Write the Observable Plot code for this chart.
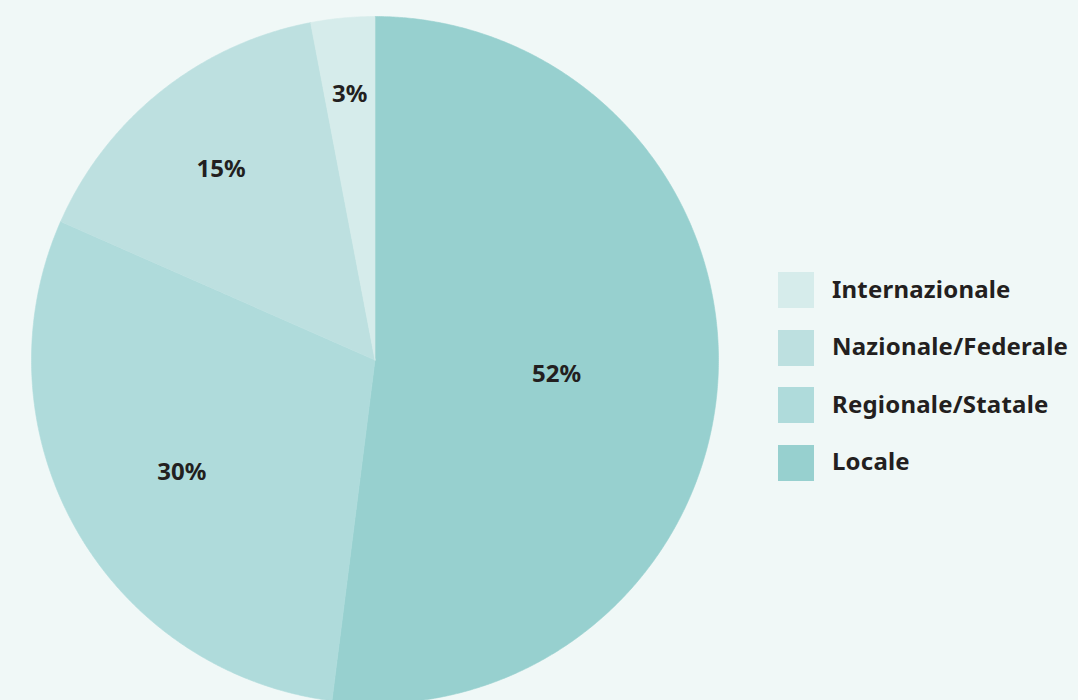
<!DOCTYPE html>
<html><head><meta charset="utf-8">
<script src="https://cdn.jsdelivr.net/npm/d3@7"></script>
<script src="https://cdn.jsdelivr.net/npm/@observablehq/plot@0.6"></script>
<style>
html,body{margin:0;padding:0;background:#f0f8f7;}
#wrap{position:relative;width:1078px;height:700px;overflow:hidden;font-family:"Noto Sans",sans-serif;}
#legend{position:absolute;left:778px;top:272px;}
.item{display:flex;align-items:center;height:36px;margin-bottom:21.5px;}
.sw{width:36px;height:36px;margin-right:18px;}
.lab{font-weight:700;font-size:24px;color:#231f20;letter-spacing:0.2px;position:relative;top:-2px;}
</style></head>
<body><div id="wrap"><div id="chart"></div><div id="legend"></div></div>
<script>
const categories = ["Locale", "Regionale/Statale", "Nazionale/Federale", "Internazionale"];
const values = [52, 29.6, 15.4, 3];
const colors = ["#97d0cf", "#afdbdb", "#bde0e0", "#d6eceb"];
const legendOrder = ["Internazionale", "Nazionale/Federale", "Regionale/Statale", "Locale"];

const W = 1078, H = 700;
const cx = 374.5, cy = 359.5, R = 343.5;

const arcs = d3.pie().sort(null).value(d => d.v)(categories.map((c, i) => ({c, v: values[i]})));
const pts = [];
const labels = [];
for (const a of arcs) {
  const c = a.data.c;
  pts.push({c, x: cx, y: cy});
  const n = Math.max(4, Math.ceil((a.endAngle - a.startAngle) * 180));
  for (let k = 0; k <= n; k++) {
    const t = a.startAngle + (a.endAngle - a.startAngle) * k / n;
    pts.push({c, x: cx + R * Math.sin(t), y: cy - R * Math.cos(t)});
  }
  pts.push({c, x: cx, y: cy});
  const mid = (a.startAngle + a.endAngle) / 2;
  const lr = R * (0.8 - 0.0052 * a.data.v);
  labels.push({c, text: Math.round(a.data.v) + "%", x: cx + lr * Math.sin(mid), y: cy - lr * Math.cos(mid) + 3});
}

const chart = Plot.plot({
  width: W, height: H,
  margin: 0,
  style: {background: "transparent"},
  x: {domain: [0, W], range: [0, W], axis: null},
  y: {domain: [0, H], range: [0, H], axis: null},
  color: {domain: categories, range: colors},
  marks: [
    Plot.line(pts, {x: "x", y: "y", z: "c", fill: "c", stroke: "c", strokeWidth: 0.6, curve: "linear"}),
    Plot.text(labels, {x: "x", y: "y", text: "text", fontSize: 24, fontWeight: 700, fill: "#231f20", fontFamily: "Noto Sans"})
  ]
});
document.getElementById("chart").appendChild(chart);

const lg = document.getElementById("legend");
for (const c of legendOrder) {
  const d = document.createElement("div"); d.className = "item";
  const s = document.createElement("div"); s.className = "sw"; s.style.background = colors[categories.indexOf(c)];
  const l = document.createElement("div"); l.className = "lab"; l.textContent = c;
  d.appendChild(s); d.appendChild(l); lg.appendChild(d);
}
</script></body></html>
